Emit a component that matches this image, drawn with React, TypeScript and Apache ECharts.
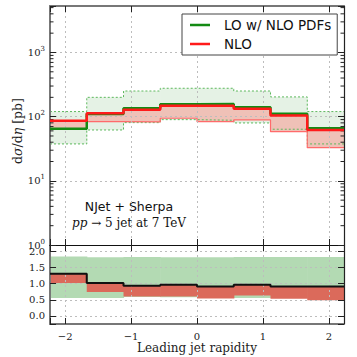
import React, { useEffect, useRef } from "react";
import * as echarts from "echarts";

// bin edges of the leading jet rapidity
const binEdges = [-2.23, -1.6725, -1.115, -0.5575, 0, 0.5575, 1.115, 1.6725, 2.23];

// top panel: dσ/dη [pb]
const loCentral = [65, 110, 135, 156, 158, 140, 111, 66];
const loUpper = [120, 200, 251, 277, 277, 251, 203, 120];
const loLower = [37.6, 62, 80.7, 89.8, 87.9, 79.8, 63.7, 37.6];
const nloCentral = [86.7, 113, 128.5, 148, 148, 133, 104.4, 62];
const nloLower = [65, 83.6, 82.7, 94.4, 83.6, 88.9, 58.4, 32.9];

// bottom panel: ratios to LO central
const ratioNlo = [1.31, 1.025, 0.94, 0.97, 0.91, 0.97, 0.91, 0.91];
const ratioNloLower = [1.025, 0.74, 0.6, 0.6, 0.54, 0.635, 0.535, 0.49];
const ratioLoUpper = [1.84, 1.82, 1.83, 1.82, 1.82, 1.83, 1.83, 1.83];
const ratioLoLower = [0.56, 0.56, 0.59, 0.58, 0.56, 0.56, 0.56, 0.57];

const logMinorTicks = [2, 3, 4, 5, 6, 7, 8, 9, 20, 30, 40, 50, 60, 70, 80, 90, 200, 300, 400, 500, 600, 700, 800, 900, 2000, 3000, 4000, 5000];
const ratioTickLabels = [0, 0.5, 1, 1.5, 2];

const X_MIN = binEdges[0];
const X_MAX = binEdges[binEdges.length - 1];
const SERIF = "DejaVu Serif";
const SANS = "DejaVu Sans";

function stepData(vals: number[]) {
  return binEdges.map((e, i) => [e, vals[Math.min(i, vals.length - 1)]]);
}
function bandData(lo: number[], hi: number[]) {
  return lo.map((l, i) => [binEdges[i], binEdges[i + 1], l, hi[i]]);
}
function bandSeries(xi: number, yi: number, lo: number[], hi: number[], color: string, z: number) {
  return {
    type: "custom",
    xAxisIndex: xi,
    yAxisIndex: yi,
    z,
    silent: true,
    data: bandData(lo, hi),
    encode: { x: [0, 1], y: [2, 3] },
    renderItem: (params: any, api: any) => {
      const p0 = api.coord([api.value(0), api.value(3)]);
      const p1 = api.coord([api.value(1), api.value(2)]);
      return {
        type: "rect",
        shape: { x: p0[0], y: p0[1], width: p1[0] - p0[0] + 0.6, height: p1[1] - p0[1] },
        style: { fill: color },
      };
    },
  };
}
function stepLine(name: string | undefined, xi: number, yi: number, vals: number[], color: string, width: number, z: number, type: any = "solid") {
  return {
    type: "line",
    name,
    xAxisIndex: xi,
    yAxisIndex: yi,
    z,
    step: "end",
    symbol: "none",
    silent: true,
    data: stepData(vals),
    lineStyle: { color, width, type },
    itemStyle: { color },
  };
}

const tickStyle = { color: "#222", width: 1 };
const gridLine = { show: true, lineStyle: { color: "#bdbdbd", width: 1, type: [2, 3] }, showMinLine: false, showMaxLine: false };

export default function App() {
  const ref = useRef<HTMLDivElement>(null);
  useEffect(() => {
    if (!ref.current) return;
    const chart = echarts.init(ref.current, undefined, { renderer: "svg" });
    const xBase = (gridIndex: number, position: string, lineColor: string, lineWidth: number, extra: any = {}) => ({
      type: "value",
      gridIndex,
      position,
      min: X_MIN,
      max: X_MAX,
      splitNumber: 5,
      z: 2,
      axisLine: { show: true, onZero: false, lineStyle: { color: lineColor, width: lineWidth } },
      axisTick: { show: true, inside: true, length: 6, lineStyle: tickStyle },
      axisLabel: { show: false },
      splitLine: { show: false },
      ...extra,
    });
    const option: any = {
      animation: false,
      backgroundColor: "#fff",
      grid: [
        { left: 50, top: 6, width: 294, height: 239, outerBoundsMode: "none" },
        { left: 50, top: 245, width: 294, height: 79, outerBoundsMode: "none" },
      ],
      legend: {
        orient: "vertical",
        left: 182,
        top: 14,
        padding: [3, 6, 3, 8],
        itemWidth: 20,
        itemHeight: 2.5,
        itemGap: 3,
        icon: "rect",
        borderColor: "#444",
        borderWidth: 1,
        borderRadius: 0,
        backgroundColor: "#fff",
        data: ["LO w/ NLO PDFs", "NLO"],
        textStyle: { fontFamily: SANS, fontSize: 13.5, color: "#111", padding: [0, 0, 0, 9], lineHeight: 16 },
      },
      xAxis: [
        xBase(0, "bottom", "#111", 1.2, { splitLine: gridLine }),
        xBase(0, "top", "#777", 2),
        xBase(1, "bottom", "#777", 2, {
          splitLine: gridLine,
          axisLabel: {
            show: true,
            margin: 7,
            fontFamily: SERIF,
            fontSize: 10,
            color: "#222",
            formatter: (v: number) => (Number.isInteger(v) ? (v < 0 ? "\u2212" + Math.abs(v) : String(v)) : ""),
          },
          name: "Leading jet rapidity",
          nameLocation: "middle",
          nameGap: 17,
          nameTextStyle: { fontFamily: SERIF, fontSize: 12, color: "#222", verticalAlign: "top" },
        }),
        xBase(1, "top", "#111", 1.2),
      ],
      yAxis: [
        {
          type: "log",
          logBase: 10,
          gridIndex: 0,
          position: "left",
          min: 1,
          max: 5300,
          z: 2,
          axisLine: { show: true, onZero: false, lineStyle: { color: "#777", width: 2 } },
          axisTick: { show: true, inside: true, length: 6, lineStyle: tickStyle },
          splitLine: gridLine,
          axisLabel: {
            show: true,
            margin: 5,
            formatter: (v: number) => {
              const e = Math.round(Math.log10(v));
              if (Math.abs(Math.log10(v) - e) > 1e-6) return "";
              return `{b|10}{s|${e}}`;
            },
            rich: {
              b: { fontFamily: SERIF, fontSize: 10, color: "#222" },
              s: { fontFamily: SERIF, fontSize: 7, color: "#222", verticalAlign: "bottom", padding: [0, 0, 7, 0] },
            },
          },
        },
        {
          type: "log",
          logBase: 10,
          gridIndex: 0,
          position: "right",
          min: 1,
          max: 5300,
          z: 2,
          axisLine: { show: true, onZero: false, lineStyle: { color: "#222", width: 1.2 } },
          axisTick: { show: true, inside: true, length: 6, lineStyle: tickStyle },
          splitLine: { show: false },
          axisLabel: { show: false },
        },
        {
          type: "value",
          gridIndex: 1,
          position: "left",
          min: -0.25,
          max: 2.2,
          splitNumber: 5,
          z: 2,
          axisLine: { show: true, onZero: false, lineStyle: { color: "#777", width: 2 } },
          axisTick: { show: true, inside: true, length: 6, lineStyle: tickStyle },
          splitLine: gridLine,
          axisLabel: {
            show: true,
            margin: 5,
            fontFamily: SERIF,
            fontSize: 10,
            color: "#222",
            formatter: (v: number) => (ratioTickLabels.some((t) => Math.abs(t - v) < 1e-9) ? v.toFixed(1) : ""),
          },
        },
        {
          type: "value",
          gridIndex: 1,
          position: "right",
          min: -0.25,
          max: 2.2,
          splitNumber: 5,
          z: 2,
          axisLine: { show: true, onZero: false, lineStyle: { color: "#222", width: 1.2 } },
          axisTick: { show: true, inside: true, length: 6, lineStyle: tickStyle },
          splitLine: { show: false },
          axisLabel: { show: false },
        },
      ],
      series: [
        // top panel
        bandSeries(0, 0, loLower, loUpper, "#e5f2e5", 1),
        stepLine(undefined, 0, 0, loUpper, "#5cb85c", 1, 1, [2, 2]),
        stepLine(undefined, 0, 0, loLower, "#5cb85c", 1, 1, [2, 2]),
        bandSeries(0, 0, nloLower, nloCentral, "#efc1b7", 1),
        stepLine(undefined, 0, 0, nloLower, "#ff6b6b", 1.2, 1),
        stepLine("LO w/ NLO PDFs", 0, 0, loCentral, "#138a13", 2.5, 3),
        stepLine("NLO", 0, 0, nloCentral, "#ff1a1a", 2.5, 3),
        {
          type: "custom",
          xAxisIndex: 0,
          yAxisIndex: 0,
          z: 3,
          silent: true,
          data: logMinorTicks.map((v) => [X_MIN, v]),
          encode: { x: 0, y: 1 },
          renderItem: (params: any, api: any) => {
            const pl = api.coord([X_MIN, api.value(1)]);
            const pr = api.coord([X_MAX, api.value(1)]);
            return {
              type: "group",
              children: [
                { type: "line", shape: { x1: pl[0], y1: pl[1], x2: pl[0] + 3.5, y2: pl[1] }, style: { stroke: "#222", lineWidth: 1 } },
                { type: "line", shape: { x1: pr[0], y1: pr[1], x2: pr[0] - 3.5, y2: pr[1] }, style: { stroke: "#222", lineWidth: 1 } },
              ],
            };
          },
        },
        // bottom panel
        bandSeries(2, 2, ratioLoLower, ratioLoUpper, "#b3dab3", 1),
        bandSeries(2, 2, ratioNloLower, ratioNlo, "#db6a5b", 1),
        stepLine(undefined, 2, 2, ratioNlo, "#111", 2, 3),
      ],
      graphic: [
        {
          type: "text",
          x: 129,
          y: 206,
          style: { text: "NJet + Sherpa", font: `12.5px "${SANS}"`, fill: "#111", align: "center", verticalAlign: "middle" },
        },
        {
          type: "text",
          x: 129,
          y: 223,
          style: {
            text: "{i|pp} \u2192 5 jet at 7 TeV",
            font: `12px "${SERIF}"`,
            fill: "#111",
            align: "center",
            verticalAlign: "middle",
            rich: { i: { fontStyle: "italic", fontFamily: SERIF, fontSize: 12, fill: "#111" } },
          },
        },
        {
          type: "text",
          x: 17,
          y: 131,
          rotation: Math.PI / 2,
          style: {
            text: "d{i|\u03c3}/d{i|\u03b7} [pb]",
            font: `12.5px "${SERIF}"`,
            fill: "#222",
            align: "center",
            verticalAlign: "middle",
            rich: { i: { fontStyle: "italic", fontFamily: SERIF, fontSize: 12.5, fill: "#222" } },
          },
        },
      ],
    };
    chart.setOption(option);
    return () => chart.dispose();
  }, []);
  return <div ref={ref} style={{ position: "fixed", left: 0, top: 0, width: 357, height: 357 }} />;
}
